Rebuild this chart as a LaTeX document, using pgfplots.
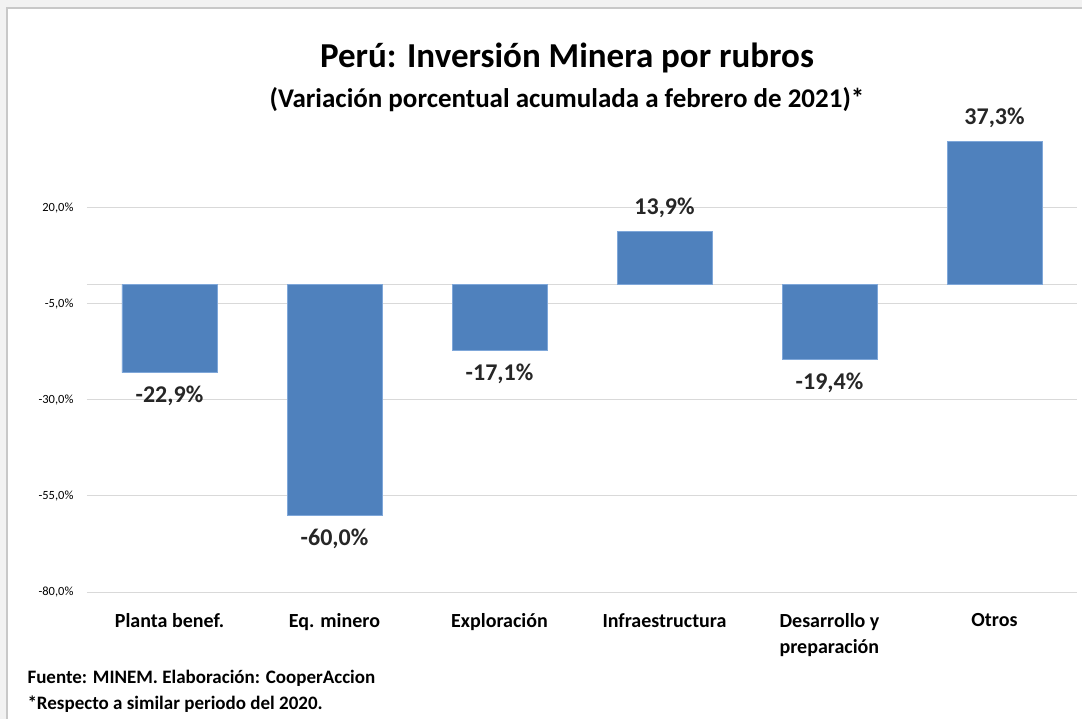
\documentclass[border=0pt]{standalone}
\usepackage{pgfplots}
\pgfplotsset{compat=1.18}
\usepackage{fontspec}
\setmainfont{Carlito}
\definecolor{barblue}{HTML}{4F81BD}
\definecolor{baredge}{HTML}{7FA7D9}
\definecolor{gridgray}{HTML}{D9D9D9}
\definecolor{bggray}{HTML}{F2F2F2}
\definecolor{edgegray}{HTML}{C8C8C8}
\definecolor{lblcol}{HTML}{262626}
\begin{document}
\begin{tikzpicture}[x=1pt,y=1pt]
\path[use as bounding box] (0,0) rectangle (1082,-719);
\fill[bggray] (0,0) rectangle (1082,-719);
\fill[white] (7,-8) rectangle (1082,-719);
\draw[edgegray,line width=1.2pt] (7,-719) -- (7,-8) -- (1082,-8);
\begin{axis}[
  at={(87pt,-592pt)}, anchor=south west,
  scale only axis, width=990pt, height=461pt,
  xmin=-0.5, xmax=5.5, ymin=-80, ymax=40,
  axis line style={draw=none},
  ytick={-80,-55,-30,-5,20},
  ymajorgrids, grid style={gridgray, line width=1pt},
  major tick length=0pt,
  xtick={0,1,2,3,4,5},
  xticklabels={Planta benef., Eq. minero, Exploración, Infraestructura, {Desarrollo y\\preparación}, Otros},
  xticklabel style={font=\fontsize{20}{26}\selectfont\bfseries, align=left, anchor=north, yshift=-18pt},
  yticklabel style={font=\fontsize{12.5}{14}\selectfont, xshift=-10pt},
  /pgf/number format/assume math mode=true,
  yticklabel={\pgfmathprintnumber[fixed, fixed zerofill, precision=1, use comma]{\tick}\%},
  ybar, bar width=95pt,
  nodes near coords={\pgfmathprintnumber[fixed, fixed zerofill, precision=1, use comma, assume math mode=true]{\pgfplotspointmeta}\%},
  nodes near coords align={vertical},
  every node near coord/.append style={font=\fontsize{24}{26}\selectfont\bfseries, text=lblcol, inner sep=13pt},
  clip=false,
]
\draw[gridgray, line width=1pt] (axis cs:-0.5,0) -- (axis cs:5.5,0);
\addplot[fill=barblue, draw=baredge, line width=0.8pt] coordinates {
(0,-22.9) (1,-60.0) (2,-17.1) (3,13.9) (4,-19.4) (5,37.3)};
\end{axis}
\node[font=\fontsize{35}{38}\selectfont\bfseries] at (567,-58) {Perú: Inversión Minera por rubros};
\node[font=\fontsize{27}{29}\selectfont\bfseries] at (567,-100) {(Variación porcentual acumulada a febrero de 2021)*};
\node[font=\fontsize{19}{21}\selectfont\bfseries, anchor=west] at (24,-678) {Fuente: MINEM. Elaboración: CooperAccion};
\node[font=\fontsize{19}{21}\selectfont\bfseries, anchor=west] at (24,-704) {*Respecto a similar periodo del 2020.};
\end{tikzpicture}
\end{document}
